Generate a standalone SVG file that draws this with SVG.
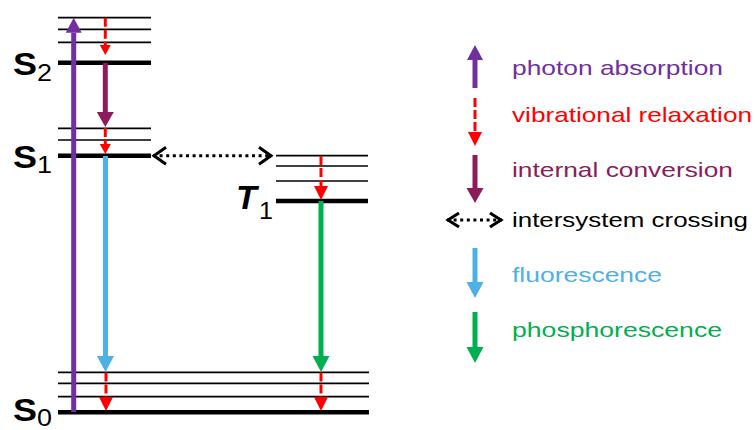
<svg xmlns="http://www.w3.org/2000/svg" width="755" height="430" viewBox="0 0 755 430">
<style>
.thin{stroke:#000;stroke-width:1.7;fill:none}
.thick{stroke:#000;stroke-width:4.6;fill:none}
.pur{stroke:#7030A0;stroke-width:5;fill:none}
.mar{stroke:#8C1C5A;stroke-width:5;fill:none}
.blu{stroke:#4FB0E3;stroke-width:5;fill:none}
.grn{stroke:#00B050;stroke-width:5;fill:none}
.red{stroke:#FF0000;stroke-width:3;fill:none;stroke-dasharray:9 3}
.isc{stroke:#000;stroke-width:3;fill:none;stroke-dasharray:3 3.6}
.lab{font-family:"Liberation Sans",Arial,sans-serif;font-weight:bold;fill:#000}
.sub{font-family:"Liberation Sans",Arial,sans-serif;fill:#000}
.leg{font-family:"Liberation Sans",Arial,sans-serif;font-size:21px}
</style>
<defs>
<marker id="hPur" markerUnits="userSpaceOnUse" viewBox="0 -10 20 20" refX="0" refY="0" markerWidth="20" markerHeight="20" orient="auto" overflow="visible"><path d="M0,-8 L15,0 L0,8 z" fill="#7030A0"/></marker>
<marker id="hMar" markerUnits="userSpaceOnUse" viewBox="0 -10 20 20" refX="0" refY="0" markerWidth="20" markerHeight="20" orient="auto" overflow="visible"><path d="M0,-8.5 L15,0 L0,8.5 z" fill="#8C1C5A"/></marker>
<marker id="hBlu" markerUnits="userSpaceOnUse" viewBox="0 -10 20 20" refX="0" refY="0" markerWidth="20" markerHeight="20" orient="auto" overflow="visible"><path d="M0,-8.5 L16,0 L0,8.5 z" fill="#4FB0E3"/></marker>
<marker id="hGrn" markerUnits="userSpaceOnUse" viewBox="0 -10 20 20" refX="0" refY="0" markerWidth="20" markerHeight="20" orient="auto" overflow="visible"><path d="M0,-8.5 L16,0 L0,8.5 z" fill="#00B050"/></marker>
<marker id="hRedS" markerUnits="userSpaceOnUse" viewBox="0 -10 20 20" refX="0" refY="0" markerWidth="20" markerHeight="20" orient="auto" overflow="visible"><path d="M0,-5.5 L10,0 L0,5.5 z" fill="#FF0000"/></marker>
<marker id="hRedM" markerUnits="userSpaceOnUse" viewBox="0 -10 20 20" refX="0" refY="0" markerWidth="20" markerHeight="20" orient="auto" overflow="visible"><path d="M0,-7 L14,0 L0,7 z" fill="#FF0000"/></marker>
<marker id="chev" markerUnits="userSpaceOnUse" viewBox="-20 -10 25 20" refX="0" refY="0" markerWidth="25" markerHeight="20" orient="auto-start-reverse" overflow="visible"><path d="M-13,-8.5 L-1,0 L-13,8.5" fill="none" stroke="#000" stroke-width="3"/></marker>
<marker id="chevS" markerUnits="userSpaceOnUse" viewBox="-20 -10 25 20" refX="0" refY="0" markerWidth="25" markerHeight="20" orient="auto-start-reverse" overflow="visible"><path d="M-12,-7 L-1,0 L-12,7" fill="none" stroke="#000" stroke-width="3"/></marker>
</defs>

<g id="S2">
<line class="thin" x1="58" y1="17.7" x2="151" y2="17.7"/>
<line class="thin" x1="58" y1="29.3" x2="151" y2="29.3"/>
<line class="thin" x1="58" y1="42.3" x2="151" y2="42.3"/>
<line class="thick" x1="58" y1="62.7" x2="151" y2="62.7"/>
<text class="lab" x="13" y="74.5" font-size="32" textLength="24" lengthAdjust="spacingAndGlyphs">S</text>
<text class="sub" x="37" y="81" font-size="23" textLength="15" lengthAdjust="spacingAndGlyphs">2</text>
</g>
<g id="S1">
<line class="thin" x1="58" y1="128.3" x2="151" y2="128.3"/>
<line class="thin" x1="58" y1="140" x2="151" y2="140"/>
<line class="thick" x1="58" y1="155.7" x2="151" y2="155.7"/>
<text class="lab" x="13" y="168" font-size="32" textLength="24" lengthAdjust="spacingAndGlyphs">S</text>
<text class="sub" x="37" y="173" font-size="23" textLength="15" lengthAdjust="spacingAndGlyphs">1</text>
</g>
<g id="S0">
<line class="thin" x1="58" y1="372.3" x2="369" y2="372.3"/>
<line class="thin" x1="58" y1="383.3" x2="369" y2="383.3"/>
<line class="thin" x1="58" y1="396.7" x2="369" y2="396.7"/>
<line class="thick" x1="58" y1="412.3" x2="369" y2="412.3"/>
<text class="lab" x="13" y="421" font-size="32" textLength="24" lengthAdjust="spacingAndGlyphs">S</text>
<text class="sub" x="37" y="426" font-size="23" textLength="15" lengthAdjust="spacingAndGlyphs">0</text>
</g>
<g id="T1">
<line class="thin" x1="276" y1="155.7" x2="368" y2="155.7"/>
<line class="thin" x1="276" y1="166" x2="368" y2="166"/>
<line class="thin" x1="276" y1="181" x2="368" y2="181"/>
<line class="thick" x1="276" y1="201" x2="368" y2="201"/>
<text class="lab" x="236" y="209" font-size="34" font-style="italic">T</text>
<text class="sub" x="259" y="219" font-size="24" textLength="14" lengthAdjust="spacingAndGlyphs">1</text>
</g>

<g id="connectors">
<line class="pur" x1="73.7" y1="412" x2="73.7" y2="32.7" marker-end="url(#hPur)"/>
<line class="red" x1="105.3" y1="17.7" x2="105.3" y2="45" marker-end="url(#hRedS)"/>
<line class="mar" x1="105.3" y1="63" x2="105.3" y2="112" marker-end="url(#hMar)"/>
<line class="red" x1="105.3" y1="128" x2="105.3" y2="144" marker-end="url(#hRedS)"/>
<line class="blu" x1="105.5" y1="156" x2="105.5" y2="356" marker-end="url(#hBlu)"/>
<line class="red" x1="106" y1="372.5" x2="106" y2="397" marker-end="url(#hRedM)"/>
<line class="isc" x1="153" y1="155.7" x2="272" y2="155.7" marker-start="url(#chev)" marker-end="url(#chev)"/>
<line class="red" x1="321" y1="156" x2="321" y2="186" marker-end="url(#hRedM)"/>
<line class="grn" x1="321" y1="201" x2="321" y2="356" marker-end="url(#hGrn)"/>
<line class="red" x1="321" y1="372.5" x2="321" y2="397" marker-end="url(#hRedM)"/>
</g>

<g id="legend">
<line class="pur" x1="475" y1="88" x2="475" y2="60" marker-end="url(#hPur)"/>
<text class="leg" x="512" y="74.5" fill="#7030A0" textLength="211" lengthAdjust="spacingAndGlyphs">photon absorption</text>
<line class="red" x1="475" y1="98" x2="475" y2="132" marker-end="url(#hRedM)"/>
<text class="leg" x="512" y="121.5" fill="#FF0000" textLength="240" lengthAdjust="spacingAndGlyphs">vibrational relaxation</text>
<line class="mar" x1="475" y1="155" x2="475" y2="188" marker-end="url(#hMar)"/>
<text class="leg" x="512" y="176.7" fill="#8C1C5A" textLength="221" lengthAdjust="spacingAndGlyphs">internal conversion</text>
<line class="isc" x1="447" y1="220" x2="502" y2="220" marker-start="url(#chevS)" marker-end="url(#chevS)"/>
<text class="leg" x="512" y="226.7" fill="#000" textLength="236" lengthAdjust="spacingAndGlyphs">intersystem crossing</text>
<line class="blu" x1="475" y1="248" x2="475" y2="282" marker-end="url(#hBlu)"/>
<text class="leg" x="512" y="281.7" fill="#4FB0E3" textLength="150" lengthAdjust="spacingAndGlyphs">fluorescence</text>
<line class="grn" x1="475" y1="312" x2="475" y2="347" marker-end="url(#hGrn)"/>
<text class="leg" x="512" y="336.7" fill="#00B050" textLength="210" lengthAdjust="spacingAndGlyphs">phosphorescence</text>
</g>
</svg>
